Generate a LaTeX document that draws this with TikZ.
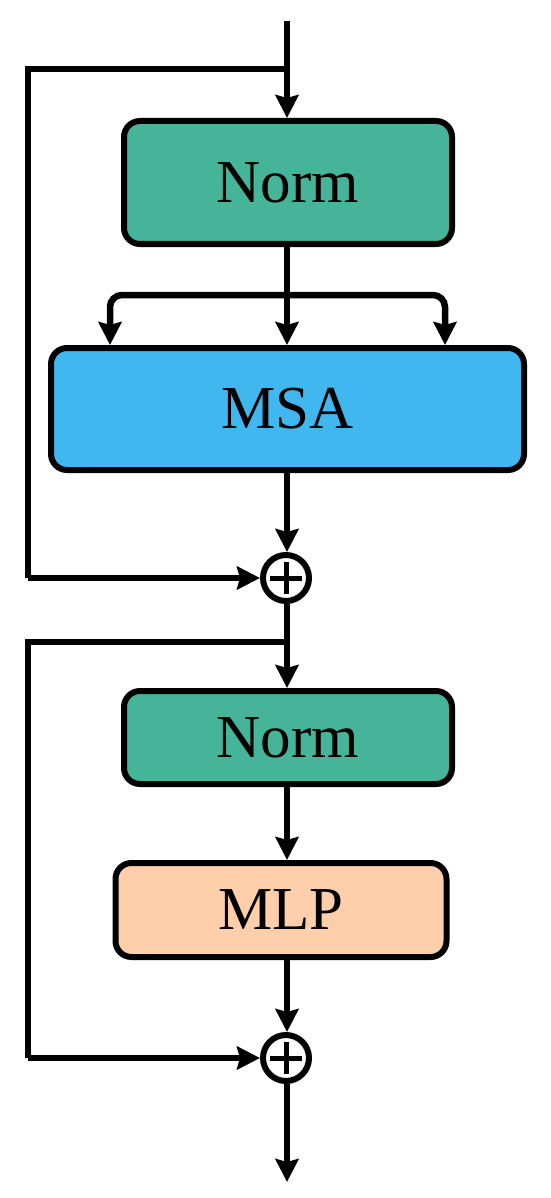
\documentclass[tikz,border=0pt]{standalone}
\usepackage{fontspec}
\setmainfont{Liberation Serif}
\usepackage{tikz}
\usetikzlibrary{positioning,arrows.meta}

\definecolor{normgreen}{HTML}{45B499}
\definecolor{msablue}{HTML}{41B7F0}
\definecolor{mlppeach}{HTML}{FFCFAB}

\begin{document}
\begin{tikzpicture}[x=1pt, y=-1pt,
    blk/.style  ={draw, line width=6pt, rounded corners=16pt, inner sep=0pt,
                  font=\fontsize{61}{72}\selectfont},
    normblk/.style={blk, fill=normgreen, minimum width=328pt},
    msablk/.style ={blk, fill=msablue, minimum width=473pt, minimum height=122pt},
    mlpblk/.style ={blk, fill=mlppeach, minimum width=331pt, minimum height=94pt},
    addop/.style  ={draw, circle, line width=6pt, minimum size=46pt, inner sep=0pt,
                    path picture={\draw[line width=5pt]
                      ([xshift=-16pt]path picture bounding box.center) -- ([xshift=16pt]path picture bounding box.center)
                      ([yshift=-16pt]path picture bounding box.center) -- ([yshift=16pt]path picture bounding box.center);}},
    arr/.style    ={-{Stealth[length=23pt, width=23pt, inset=3pt]}, line width=6.5pt},
    wire/.style   ={line width=6.5pt}
  ]
    \useasboundingbox (0,0) rectangle (550,1198);

    % --- attention half ---
    \coordinate (in) at (287,21);
    \node[normblk, minimum height=123pt] (norma) at (288,182.5) {Norm};
    \node[msablk] (msa) at (287.5,409) {MSA};
    \node[addop] (suma) at (286,578) {};
    \coordinate (skipa) at (287,69);
    \coordinate (fork) at (287,295);
    \coordinate (forkl) at (110,295);
    \coordinate (forkr) at (445,295);

    \draw[arr] (in) -- (in |- norma.north);
    \draw[wire] (skipa) -- (28,69) -- (28,578);
    \draw[arr] (28,578) -- (suma.west);
    \draw[arr] (norma.south -| in) -- (in |- msa.north);
    \draw[arr, rounded corners=12pt] (fork) -- (forkl) -- (forkl |- msa.north);
    \draw[arr, rounded corners=12pt] (fork) -- (forkr) -- (forkr |- msa.north);
    \draw[arr] (msa.south -| in) -- (in |- suma.north);

    % --- feed-forward half ---
    \node[normblk, minimum height=93pt] (normb) at (288,737.5) {Norm};
    \node[mlpblk] (mlp) at (281,910) {MLP};
    \node[addop] (sumb) at (286,1058) {};
    \coordinate (skipb) at (287,642);
    \coordinate (out) at (287,1182);

    \draw[arr] (in |- suma.south) -- (in |- normb.north);
    \draw[wire] (skipb) -- (28,642) -- (28,1058);
    \draw[arr] (28,1058) -- (sumb.west);
    \draw[arr] (normb.south -| in) -- (in |- mlp.north);
    \draw[arr] (mlp.south -| in) -- (in |- sumb.north);
    \draw[arr] (in |- sumb.south) -- (out);
\end{tikzpicture}
\end{document}
